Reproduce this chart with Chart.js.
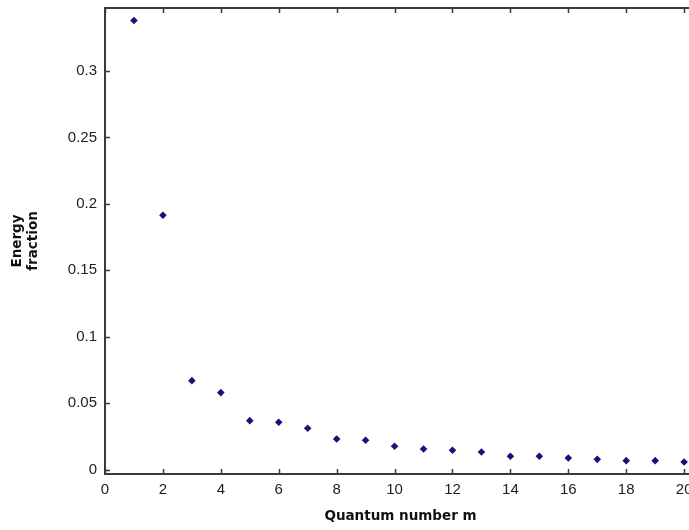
<!DOCTYPE html>
<html>
<head>
<meta charset="utf-8">
<script src="https://cdn.jsdelivr.net/npm/chart.js@4"></script>
<style>
    body { margin: 0; overflow: hidden; background: #fff; }
    #wrap { width: 700px; height: 530px; }
</style>
</head>
<body>
<div id="wrap"><canvas id="chart" width="700" height="530"></canvas></div>
<script>
// values
const quantumNumbers = [1, 2, 3, 4, 5, 6, 7, 8, 9, 10, 11, 12, 13, 14, 15, 16, 17, 18, 19, 20];
const energyFraction = [0.338, 0.1915, 0.067, 0.058, 0.0369, 0.0357, 0.0312, 0.0231, 0.0221, 0.0176,
    0.0156, 0.0146, 0.0133, 0.0101, 0.0101, 0.0088, 0.0078, 0.0068, 0.0068, 0.0058];
const xTicks = [0, 2, 4, 6, 8, 10, 12, 14, 16, 18, 20];
const yTicks = [0, 0.05, 0.1, 0.15, 0.2, 0.25, 0.3];

const AXIS_COLOR = '#3a3a3a';
const TICK_LEN = 5;

var points = quantumNumbers.map(function(m, i) {
    return { x: m, y: energyFraction[i] };
});

// matlab-ish box with ticks pointing inwards
const boxAxes = {
    id: 'boxAxes',
    afterDraw: function(chart) {
        const ctx = chart.ctx;
        const a = chart.chartArea;
        const xs = chart.scales.x, ys = chart.scales.y;
        ctx.save();
        ctx.strokeStyle = AXIS_COLOR;
        ctx.lineWidth = 2;
        ctx.strokeRect(a.left, a.top, a.right - a.left, a.bottom - a.top);
        ctx.lineWidth = 1.5;
        ctx.beginPath();
        xTicks.forEach(function(v) {
            const px = Math.round(xs.getPixelForValue(v)) + 0.5;
            ctx.moveTo(px, a.bottom); ctx.lineTo(px, a.bottom - TICK_LEN);
            ctx.moveTo(px, a.top); ctx.lineTo(px, a.top + TICK_LEN);
        });
        yTicks.forEach(function(v) {
            const py = Math.round(ys.getPixelForValue(v)) + 0.5;
            ctx.moveTo(a.left, py); ctx.lineTo(a.left + TICK_LEN, py);
            ctx.moveTo(a.right, py); ctx.lineTo(a.right - TICK_LEN, py);
        });
        ctx.stroke();
        ctx.restore();
    }
};

const config = {
    type: 'scatter',
    data: {
        datasets: [{
            label: 'Energy fraction',
            data: points,
            pointStyle: 'rectRot',
            pointRadius: 3.8,
            backgroundColor: '#14147a',
            borderColor: '#14147a',
            borderWidth: 0
        }]
    },
    options: {
        responsive: false,
        animation: false,
        layout: { padding: { top: 8, right: 3, left: 0, bottom: 0 } },
        plugins: { legend: { display: false }, tooltip: { enabled: false } },
        scales: {
            x: {
                type: 'linear',
                min: 0, max: 20.41,
                grid: { display: false, drawTicks: false },
                border: { display: false },
                afterBuildTicks: function(scale) {
                    scale.ticks = xTicks.map(function(v) { return { value: v }; });
                },
                afterFit: function(scale) {
                    scale.height = 56;
                    scale.paddingLeft = 0;
                    scale.paddingRight = 0;
                },
                ticks: {
                    padding: 7,
                    maxRotation: 0,
                    color: '#1e1e1e',
                    font: { family: 'Liberation Sans', size: 15 }
                },
                title: {
                    display: true,
                    text: 'Quantum number m',
                    color: '#111',
                    padding: { top: 0, bottom: 5 },
                    font: { family: 'DejaVu Sans', size: 13.5, weight: 'bold' }
                }
            },
            y: {
                type: 'linear',
                min: -0.00324, max: 0.3474,
                grid: { display: false, drawTicks: false },
                border: { display: false },
                afterBuildTicks: function(scale) {
                    scale.ticks = yTicks.map(function(v) { return { value: v }; });
                },
                afterFit: function(scale) {
                    scale.width = 105;
                    scale.paddingTop = 0;
                    scale.paddingBottom = 0;
                },
                ticks: {
                    padding: 8,
                    color: '#1e1e1e',
                    font: { family: 'Liberation Sans', size: 15 },
                    callback: function(v) { return String(v); }
                },
                title: {
                    display: true,
                    text: ['Energy', 'fraction'],
                    color: '#111',
                    padding: { top: 10, bottom: 0 },
                    font: { family: 'DejaVu Sans', size: 13.5, weight: 'bold', lineHeight: 1.15 }
                }
            }
        }
    },
    plugins: [boxAxes]
};

var myChart = new Chart(document.getElementById('chart'), config);
</script>
</body>
</html>
